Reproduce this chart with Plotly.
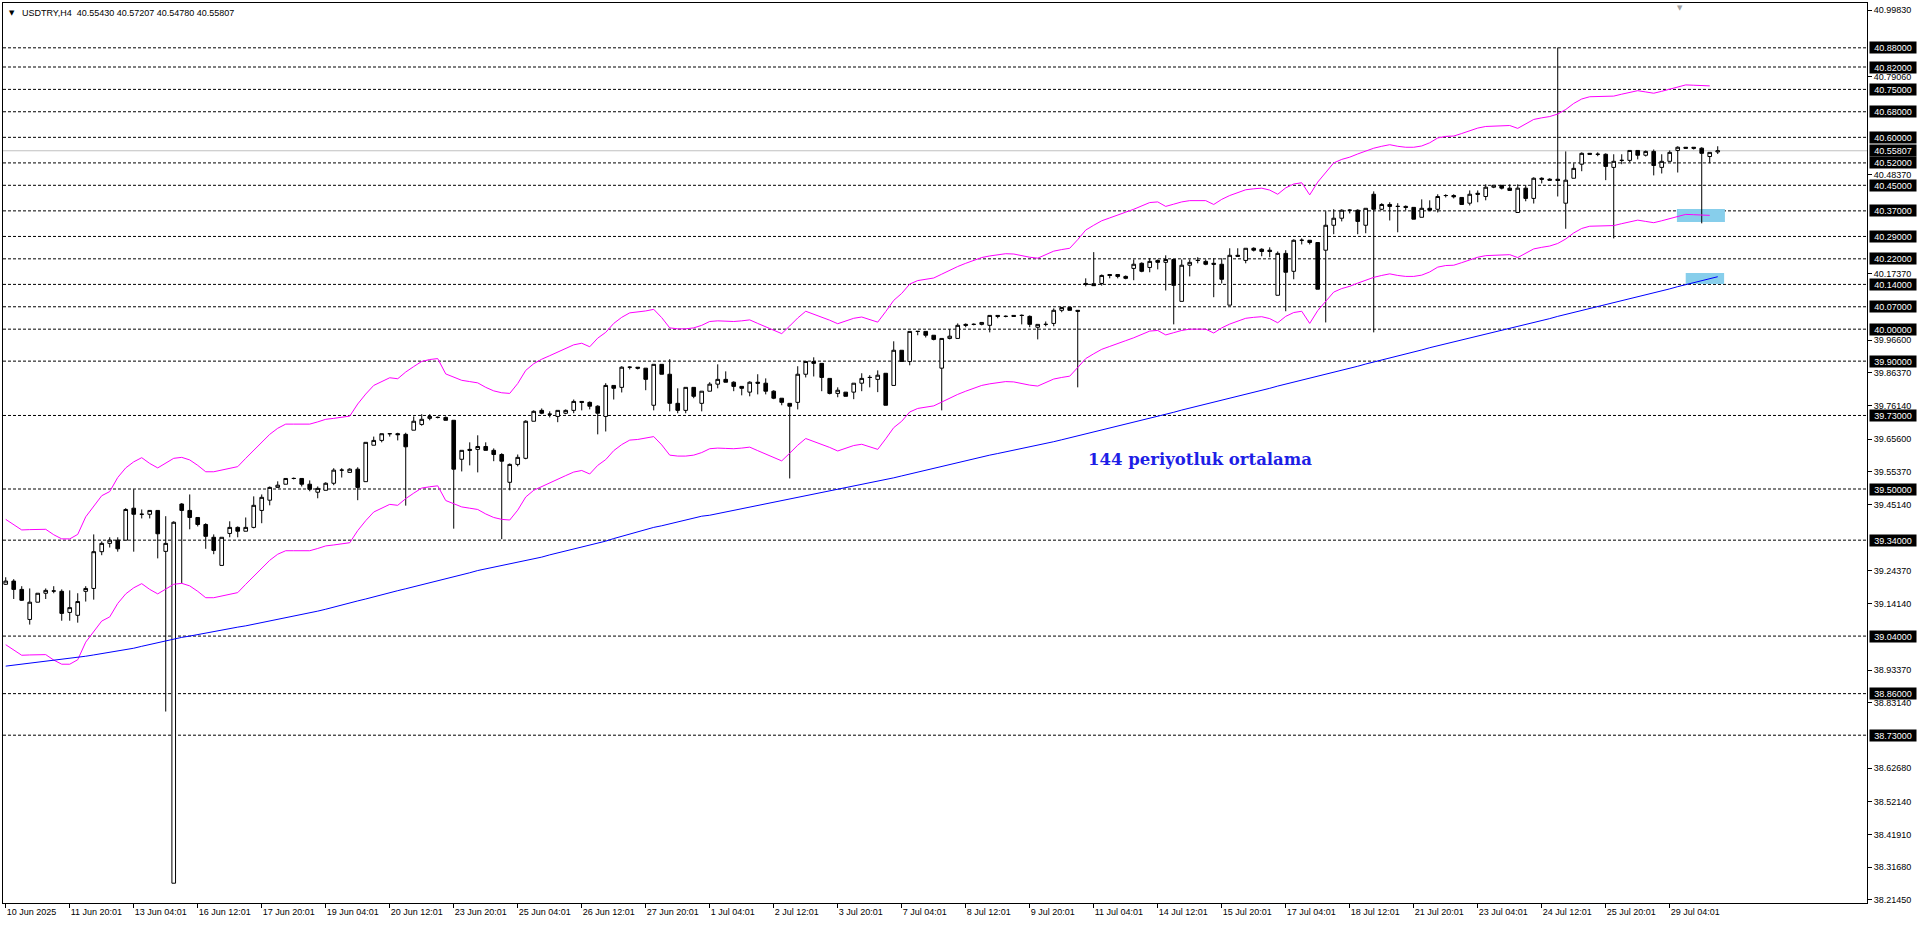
import plotly.graph_objects as go

# ---------------- data ----------------
x_labels = ["10 Jun 2025", "11 Jun 20:01", "13 Jun 04:01", "16 Jun 12:01", "17 Jun 20:01",
            "19 Jun 04:01", "20 Jun 12:01", "23 Jun 20:01", "25 Jun 04:01", "26 Jun 12:01",
            "27 Jun 20:01", "1 Jul 04:01", "2 Jul 12:01", "3 Jul 20:01", "7 Jul 04:01",
            "8 Jul 12:01", "9 Jul 20:01", "11 Jul 04:01", "14 Jul 12:01", "15 Jul 20:01",
            "17 Jul 04:01", "18 Jul 12:01", "21 Jul 20:01", "23 Jul 04:01", "24 Jul 12:01",
            "25 Jul 20:01", "29 Jul 04:01"]
bars_per_label = 8

opens = [39.202, 39.212, 39.186, 39.092, 39.146, 39.174, 39.181, 39.180, 39.114, 39.105,
         39.180, 39.189, 39.304, 39.330, 39.340, 39.340, 39.440, 39.421, 39.421, 39.433,
         39.305, 38.267, 39.453, 39.433, 39.411, 39.389, 39.349, 39.261, 39.361, 39.380,
         39.368, 39.380, 39.433, 39.465, 39.505, 39.515, 39.533, 39.533, 39.515, 39.490,
         39.496, 39.518, 39.559, 39.552, 39.562, 39.523, 39.637, 39.652, 39.673, 39.673,
         39.671, 39.684, 39.702, 39.721, 39.724, 39.724, 39.715, 39.593, 39.624, 39.624,
         39.633, 39.621, 39.608, 39.521, 39.577, 39.596, 39.712, 39.746, 39.734, 39.727,
         39.737, 39.746, 39.774, 39.771, 39.759, 39.727, 39.824, 39.818, 39.881, 39.881,
         39.878, 39.762, 39.890, 39.859, 39.768, 39.746, 39.818, 39.768, 39.806, 39.828,
         39.843, 39.834, 39.821, 39.803, 39.834, 39.831, 39.806, 39.784, 39.768, 39.771,
         39.859, 39.899, 39.893, 39.846, 39.799, 39.803, 39.803, 39.831, 39.849, 39.843,
         39.862, 39.824, 39.934, 39.899, 39.993, 39.993, 39.981, 39.878, 39.971, 39.971,
         40.015, 40.015, 40.015, 40.012, 40.043, 40.040, 40.043, 40.043, 40.040, 40.006,
         40.015, 40.018, 40.059, 40.068, 40.059, 40.143, 40.142, 40.143, 40.171, 40.171,
         40.165, 40.190, 40.206, 40.193, 40.215, 40.209, 40.218, 40.087, 40.200, 40.215,
         40.212, 40.206, 40.203, 40.075, 40.231, 40.215, 40.253, 40.250, 40.247, 40.106,
         40.237, 40.181, 40.278, 40.278, 40.271, 40.247, 40.325, 40.347, 40.372, 40.372,
         40.325, 40.422, 40.375, 40.390, 40.384, 40.384, 40.381, 40.350, 40.378, 40.375,
         40.418, 40.418, 40.412, 40.394, 40.425, 40.415, 40.444, 40.450, 40.441, 40.365,
         40.441, 40.409, 40.472, 40.469, 40.469, 40.394, 40.472, 40.516, 40.550, 40.547,
         40.547, 40.506, 40.528, 40.528, 40.559, 40.544, 40.556, 40.506, 40.525, 40.559,
         40.569, 40.569, 40.566, 40.540, 40.55430]

highs = [39.224, 39.218, 39.196, 39.189, 39.174, 39.189, 39.196, 39.186, 39.183, 39.174,
         39.196, 39.358, 39.336, 39.349, 39.349, 39.440, 39.499, 39.436, 39.433, 39.433,
         39.415, 39.399, 39.456, 39.483, 39.411, 39.393, 39.358, 39.349, 39.399, 39.383,
         39.411, 39.477, 39.483, 39.508, 39.524, 39.533, 39.536, 39.533, 39.527, 39.508,
         39.521, 39.565, 39.565, 39.565, 39.568, 39.646, 39.664, 39.673, 39.673, 39.676,
         39.676, 39.727, 39.734, 39.734, 39.727, 39.727, 39.715, 39.621, 39.646, 39.668,
         39.646, 39.627, 39.612, 39.580, 39.608, 39.715, 39.746, 39.752, 39.743, 39.746,
         39.749, 39.780, 39.774, 39.774, 39.762, 39.831, 39.824, 39.884, 39.884, 39.881,
         39.878, 39.890, 39.890, 39.906, 39.815, 39.818, 39.818, 39.806, 39.834, 39.890,
         39.868, 39.837, 39.821, 39.837, 39.859, 39.846, 39.809, 39.784, 39.768, 39.884,
         39.899, 39.912, 39.893, 39.846, 39.818, 39.803, 39.831, 39.862, 39.856, 39.871,
         39.862, 39.962, 39.934, 39.993, 39.993, 39.993, 39.981, 39.971, 40.000, 40.018,
         40.018, 40.018, 40.021, 40.043, 40.043, 40.043, 40.043, 40.046, 40.043, 40.015,
         40.024, 40.065, 40.068, 40.068, 40.059, 40.159, 40.241, 40.171, 40.171, 40.171,
         40.168, 40.218, 40.209, 40.222, 40.218, 40.231, 40.218, 40.218, 40.218, 40.225,
         40.218, 40.222, 40.222, 40.253, 40.253, 40.253, 40.256, 40.253, 40.256, 40.243,
         40.247, 40.281, 40.284, 40.278, 40.271, 40.369, 40.375, 40.375, 40.375, 40.375,
         40.378, 40.431, 40.394, 40.397, 40.394, 40.387, 40.381, 40.406, 40.403, 40.422,
         40.422, 40.422, 40.412, 40.434, 40.434, 40.453, 40.450, 40.450, 40.453, 40.453,
         40.450, 40.475, 40.475, 40.472, 40.881, 40.556, 40.519, 40.553, 40.550, 40.553,
         40.550, 40.547, 40.547, 40.559, 40.559, 40.559, 40.562, 40.547, 40.559, 40.572,
         40.569, 40.569, 40.569, 40.553, 40.57207]

lows = [39.200, 39.156, 39.150, 39.076, 39.146, 39.156, 39.174, 39.088, 39.088, 39.082,
        39.148, 39.154, 39.293, 39.317, 39.304, 39.340, 39.304, 39.408, 39.408, 39.283,
        38.804, 38.267, 39.205, 39.374, 39.383, 39.313, 39.296, 39.261, 39.349, 39.349,
        39.368, 39.377, 39.393, 39.449, 39.505, 39.515, 39.530, 39.508, 39.493, 39.471,
        39.496, 39.512, 39.536, 39.552, 39.465, 39.523, 39.637, 39.646, 39.664, 39.652,
        39.448, 39.684, 39.698, 39.715, 39.721, 39.715, 39.376, 39.555, 39.574, 39.552,
        39.621, 39.587, 39.343, 39.496, 39.571, 39.593, 39.712, 39.734, 39.724, 39.709,
        39.734, 39.737, 39.746, 39.749, 39.671, 39.680, 39.780, 39.802, 39.874, 39.874,
        39.809, 39.746, 39.859, 39.743, 39.737, 39.737, 39.784, 39.743, 39.806, 39.815,
        39.834, 39.806, 39.793, 39.790, 39.796, 39.796, 39.781, 39.762, 39.533, 39.749,
        39.849, 39.852, 39.806, 39.796, 39.787, 39.790, 39.781, 39.806, 39.818, 39.803,
        39.762, 39.824, 39.899, 39.887, 39.981, 39.974, 39.965, 39.746, 39.968, 39.971,
        40.006, 40.012, 40.012, 39.990, 40.034, 40.037, 40.040, 40.015, 40.006, 39.968,
        40.009, 40.009, 40.053, 40.059, 39.818, 40.134, 40.135, 40.136, 40.159, 40.159,
        40.156, 40.153, 40.178, 40.178, 40.187, 40.121, 40.015, 40.087, 40.165, 40.206,
        40.200, 40.100, 40.143, 40.075, 40.228, 40.206, 40.243, 40.228, 40.225, 40.106,
        40.056, 40.156, 40.265, 40.265, 40.125, 40.021, 40.297, 40.337, 40.362, 40.297,
        40.300, 39.990, 40.372, 40.340, 40.303, 40.372, 40.344, 40.350, 40.369, 40.365,
        40.412, 40.409, 40.390, 40.387, 40.397, 40.403, 40.441, 40.437, 40.434, 40.365,
        40.400, 40.393, 40.456, 40.466, 40.415, 40.314, 40.472, 40.494, 40.547, 40.541,
        40.466, 40.284, 40.516, 40.522, 40.531, 40.540, 40.481, 40.487, 40.525, 40.490,
        40.566, 40.562, 40.331, 40.519, 40.54780]

closes = [39.212, 39.186, 39.152, 39.146, 39.174, 39.183, 39.181, 39.111, 39.129, 39.148,
          39.189, 39.304, 39.330, 39.340, 39.313, 39.436, 39.421, 39.421, 39.433, 39.360,
          39.330, 39.396, 39.433, 39.411, 39.389, 39.352, 39.308, 39.349, 39.380, 39.368,
          39.380, 39.449, 39.474, 39.505, 39.512, 39.533, 39.533, 39.515, 39.499, 39.502,
          39.518, 39.559, 39.559, 39.562, 39.505, 39.646, 39.652, 39.673, 39.673, 39.670,
          39.632, 39.712, 39.718, 39.727, 39.724, 39.715, 39.562, 39.621, 39.621, 39.633,
          39.621, 39.608, 39.587, 39.577, 39.599, 39.712, 39.743, 39.737, 39.734, 39.746,
          39.746, 39.774, 39.771, 39.759, 39.737, 39.824, 39.815, 39.881, 39.881, 39.878,
          39.843, 39.890, 39.859, 39.768, 39.746, 39.818, 39.790, 39.806, 39.828, 39.843,
          39.834, 39.821, 39.815, 39.834, 39.831, 39.806, 39.784, 39.771, 39.759, 39.859,
          39.899, 39.893, 39.849, 39.799, 39.809, 39.790, 39.831, 39.846, 39.849, 39.856,
          39.762, 39.934, 39.899, 39.993, 39.993, 39.981, 39.968, 39.971, 39.978, 40.012,
          40.012, 40.015, 40.021, 40.043, 40.040, 40.040, 40.040, 40.043, 40.015, 40.015,
          40.015, 40.059, 40.068, 40.059, 40.056, 40.140, 40.136, 40.168, 40.168, 40.165,
          40.159, 40.203, 40.181, 40.212, 40.209, 40.218, 40.137, 40.200, 40.209, 40.215,
          40.203, 40.203, 40.156, 40.231, 40.228, 40.253, 40.247, 40.243, 40.243, 40.237,
          40.178, 40.278, 40.278, 40.271, 40.125, 40.325, 40.347, 40.372, 40.372, 40.337,
          40.378, 40.375, 40.390, 40.384, 40.384, 40.381, 40.344, 40.378, 40.372, 40.415,
          40.418, 40.414, 40.390, 40.422, 40.422, 40.444, 40.450, 40.441, 40.434, 40.441,
          40.409, 40.472, 40.469, 40.466, 40.465, 40.466, 40.503, 40.550, 40.547, 40.547,
          40.509, 40.525, 40.528, 40.559, 40.544, 40.556, 40.512, 40.525, 40.553, 40.569,
          40.566, 40.566, 40.550, 40.553, 40.55807]

ma144 = [38.946, 38.949, 38.951, 38.954, 38.957, 38.960, 38.963, 38.967, 38.970, 38.973,
         38.977, 38.981, 38.985, 38.990, 38.994, 38.998, 39.002, 39.008, 39.014, 39.019,
         39.025, 39.031, 39.036, 39.040, 39.045, 39.049, 39.054, 39.059, 39.063, 39.068,
         39.072, 39.077, 39.081, 39.086, 39.092, 39.097, 39.102, 39.108, 39.113, 39.118,
         39.124, 39.131, 39.137, 39.143, 39.150, 39.156, 39.163, 39.169, 39.175, 39.182,
         39.188, 39.194, 39.201, 39.207, 39.213, 39.220, 39.226, 39.232, 39.238, 39.245,
         39.250, 39.255, 39.260, 39.265, 39.270, 39.275, 39.281, 39.287, 39.294, 39.300,
         39.306, 39.313, 39.319, 39.325, 39.331, 39.337, 39.345, 39.352, 39.359, 39.367,
         39.374, 39.380, 39.385, 39.391, 39.397, 39.403, 39.409, 39.415, 39.418, 39.423,
         39.428, 39.433, 39.438, 39.443, 39.448, 39.453, 39.459, 39.464, 39.469, 39.474,
         39.479, 39.484, 39.489, 39.494, 39.499, 39.504, 39.509, 39.514, 39.519, 39.524,
         39.529, 39.535, 39.541, 39.547, 39.553, 39.560, 39.566, 39.572, 39.578, 39.584,
         39.590, 39.596, 39.601, 39.606, 39.611, 39.616, 39.621, 39.626, 39.631, 39.636,
         39.642, 39.648, 39.654, 39.660, 39.666, 39.672, 39.678, 39.684, 39.690, 39.697,
         39.703, 39.709, 39.715, 39.722, 39.728, 39.734, 39.740, 39.747, 39.753, 39.759,
         39.765, 39.772, 39.778, 39.784, 39.790, 39.797, 39.803, 39.809, 39.815, 39.822,
         39.828, 39.834, 39.840, 39.847, 39.853, 39.859, 39.865, 39.872, 39.878, 39.884,
         39.891, 39.897, 39.904, 39.910, 39.916, 39.923, 39.929, 39.935, 39.942, 39.948,
         39.955, 39.959, 39.965, 39.971, 39.978, 39.984, 39.990, 39.996, 40.002, 40.009,
         40.015, 40.021, 40.027, 40.033, 40.040, 40.046, 40.052, 40.058, 40.064, 40.071,
         40.077, 40.083, 40.089, 40.095, 40.102, 40.108, 40.114, 40.120, 40.126, 40.133,
         40.139, 40.145, 40.151, 40.157, 40.164]

env_upper = [39.405, 39.389, 39.372, 39.373, 39.374, 39.374, 39.357, 39.344, 39.344, 39.358,
             39.413, 39.448, 39.479, 39.492, 39.536, 39.566, 39.585, 39.598, 39.580, 39.566,
             39.582, 39.596, 39.599, 39.591, 39.574, 39.554, 39.554, 39.559, 39.564, 39.570,
             39.596, 39.622, 39.648, 39.671, 39.690, 39.703, 39.703, 39.703, 39.703, 39.710,
             39.718, 39.721, 39.724, 39.728, 39.766, 39.797, 39.824, 39.837, 39.848, 39.845,
             39.866, 39.883, 39.899, 39.905, 39.908, 39.860, 39.850, 39.840, 39.836, 39.832,
             39.818, 39.807, 39.801, 39.799, 39.830, 39.871, 39.892, 39.906, 39.917, 39.928,
             39.940, 39.951, 39.956, 39.945, 39.972, 39.990, 40.018, 40.037, 40.051, 40.053,
             40.057, 40.062, 40.036, 40.004, 40.001, 40.001, 40.004, 40.012, 40.024, 40.026,
             40.025, 40.024, 40.026, 40.029, 40.018, 40.008, 39.996, 39.986, 40.010, 40.035,
             40.056, 40.047, 40.038, 40.028, 40.017, 40.025, 40.034, 40.038, 40.030, 40.022,
             40.055, 40.090, 40.112, 40.141, 40.152, 40.157, 40.160, 40.172, 40.185, 40.196,
             40.206, 40.215, 40.224, 40.229, 40.233, 40.236, 40.235, 40.229, 40.225, 40.222,
             40.234, 40.244, 40.249, 40.253, 40.280, 40.310, 40.325, 40.339, 40.348, 40.356,
             40.366, 40.375, 40.385, 40.396, 40.398, 40.384, 40.391, 40.398, 40.402, 40.402,
             40.402, 40.390, 40.406, 40.418, 40.428, 40.436, 40.439, 40.441, 40.435, 40.422,
             40.442, 40.454, 40.458, 40.420, 40.460, 40.490, 40.520, 40.531, 40.538, 40.548,
             40.558, 40.566, 40.572, 40.577, 40.572, 40.569, 40.569, 40.573, 40.583, 40.598,
             40.603, 40.604, 40.612, 40.621, 40.629, 40.634, 40.635, 40.636, 40.637, 40.628,
             40.642, 40.656, 40.661, 40.665, 40.673, 40.687, 40.706, 40.720, 40.727, 40.728,
             40.729, 40.729, 40.735, 40.741, 40.746, 40.742, 40.738, 40.744, 40.750, 40.756,
             40.764, 40.763, 40.762, 40.761]

env_lower = [39.013, 38.997, 38.980, 38.981, 38.982, 38.982, 38.965, 38.952, 38.952, 38.966,
             39.021, 39.056, 39.087, 39.100, 39.142, 39.172, 39.191, 39.204, 39.186, 39.172,
             39.188, 39.202, 39.205, 39.197, 39.180, 39.160, 39.160, 39.165, 39.170, 39.176,
             39.202, 39.228, 39.254, 39.277, 39.296, 39.307, 39.307, 39.307, 39.307, 39.314,
             39.322, 39.325, 39.328, 39.332, 39.370, 39.401, 39.428, 39.441, 39.452, 39.449,
             39.470, 39.487, 39.503, 39.507, 39.510, 39.464, 39.454, 39.444, 39.440, 39.436,
             39.422, 39.411, 39.405, 39.403, 39.434, 39.475, 39.496, 39.508, 39.519, 39.530,
             39.542, 39.553, 39.558, 39.547, 39.574, 39.592, 39.620, 39.639, 39.653, 39.655,
             39.659, 39.664, 39.638, 39.606, 39.603, 39.603, 39.606, 39.614, 39.626, 39.628,
             39.627, 39.626, 39.628, 39.631, 39.620, 39.610, 39.598, 39.588, 39.612, 39.637,
             39.658, 39.649, 39.640, 39.630, 39.619, 39.627, 39.636, 39.640, 39.632, 39.624,
             39.657, 39.692, 39.712, 39.741, 39.752, 39.757, 39.760, 39.772, 39.785, 39.796,
             39.806, 39.815, 39.824, 39.829, 39.833, 39.836, 39.835, 39.829, 39.825, 39.822,
             39.834, 39.844, 39.849, 39.853, 39.880, 39.908, 39.923, 39.937, 39.946, 39.954,
             39.964, 39.973, 39.983, 39.994, 39.996, 39.982, 39.989, 39.996, 40.000, 40.000,
             40.000, 39.988, 40.004, 40.016, 40.026, 40.034, 40.037, 40.039, 40.033, 40.020,
             40.040, 40.052, 40.056, 40.018, 40.058, 40.087, 40.116, 40.127, 40.134, 40.144,
             40.154, 40.162, 40.168, 40.173, 40.168, 40.165, 40.165, 40.169, 40.179, 40.194,
             40.199, 40.200, 40.208, 40.217, 40.225, 40.230, 40.231, 40.232, 40.233, 40.224,
             40.238, 40.251, 40.256, 40.260, 40.268, 40.282, 40.301, 40.315, 40.322, 40.323,
             40.324, 40.324, 40.330, 40.336, 40.341, 40.337, 40.333, 40.339, 40.345, 40.351,
             40.359, 40.358, 40.357, 40.356]

levels = [40.88, 40.82, 40.75, 40.68, 40.60, 40.52, 40.45, 40.37, 40.29, 40.22,
          40.14, 40.07, 40.00, 39.90, 39.73, 39.50, 39.34, 39.04, 38.86, 38.73]

# price-scale labels that remain visible next to the level boxes
price_ticks = [40.99830, 40.79060, 40.48370, 40.17370, 39.96600, 39.86370, 39.76140,
               39.65600, 39.55370, 39.45140, 39.24370, 39.14140, 38.93370, 38.83140,
               38.62680, 38.52140, 38.41910, 38.31680, 38.21450]

bid_price = 40.55807
symbol_text = "USDTRY,H4\u00a0\u00a040.55430 40.57207 40.54780 40.55807"
ma_text = "144 periyotluk ortalama"

# ---------------- figure ----------------
bars = list(range(len(opens)))
AXFONT = dict(family="Liberation Sans, Arial, sans-serif", size=9, color="black")

fig = go.Figure()

fig.add_trace(go.Candlestick(
    x=bars, open=opens, high=highs, low=lows, close=closes,
    increasing=dict(line=dict(color="black", width=1), fillcolor="white"),
    decreasing=dict(line=dict(color="black", width=1), fillcolor="black"),
    whiskerwidth=0, showlegend=False, hoverinfo="skip",
))

fig.add_trace(go.Scatter(x=bars[:len(env_upper)], y=env_upper, mode="lines",
                         line=dict(color="#FF00FF", width=1), showlegend=False, hoverinfo="skip"))
fig.add_trace(go.Scatter(x=bars[:len(env_lower)], y=env_lower, mode="lines",
                         line=dict(color="#FF00FF", width=1), showlegend=False, hoverinfo="skip"))
fig.add_trace(go.Scatter(x=bars[:len(ma144)], y=ma144, mode="lines",
                         line=dict(color="#0000FF", width=1), showlegend=False, hoverinfo="skip"))

shapes = []
for lv in levels:
    shapes.append(dict(type="line", xref="paper", yref="y", x0=0, x1=1, y0=lv, y1=lv,
                       line=dict(color="black", width=1, dash="3px,2px"), layer="below"))
shapes.append(dict(type="line", xref="paper", yref="y", x0=0, x1=1, y0=bid_price, y1=bid_price,
                   line=dict(color="#C0C0C0", width=1), layer="below"))
# highlighted zones
shapes.append(dict(type="rect", xref="x", yref="y", x0=208.9, x1=214.9, y0=40.335, y1=40.376,
                   fillcolor="rgb(135,206,235)", line=dict(width=0), layer="below"))
shapes.append(dict(type="rect", xref="x", yref="y", x0=210.0, x1=214.8, y0=40.141, y1=40.176,
                   fillcolor="rgb(135,206,235)", line=dict(width=0), layer="below"))

annotations = []
for lv in levels + [bid_price]:
    annotations.append(dict(xref="paper", yref="y", x=1, y=lv, xanchor="left", yanchor="middle",
                            xshift=2, text=f"{lv:.5f}", showarrow=False,
                            font=dict(family=AXFONT["family"], size=9, color="white"),
                            bgcolor="black", borderpad=1, width=44, height=9, align="center"))
annotations.append(dict(xref="paper", yref="paper", x=0, y=1, xanchor="left", yanchor="middle",
                        xshift=4, yshift=-10, text="\u25BC", showarrow=False,
                        font=dict(family="DejaVu Sans", size=7, color="black")))
annotations.append(dict(xref="paper", yref="paper", x=0, y=1, xanchor="left", yanchor="middle",
                        xshift=17, yshift=-10, text=symbol_text, showarrow=False,
                        font=AXFONT))
# chart-shift marker at the top
annotations.append(dict(xref="x", yref="paper", x=209.3, y=1, xanchor="center", yanchor="top",
                        yshift=1, text="\u25BC", showarrow=False,
                        font=dict(family="DejaVu Sans", size=7, color="#A0A0A0")))
annotations.append(dict(xref="x", yref="y", x=135.0, y=39.591, xanchor="left", yanchor="middle",
                        text=f"<b>{ma_text}</b>", showarrow=False,
                        font=dict(family="DejaVu Serif", size=16.5, color="#1E1EE6")))

fig.update_layout(
    width=1920, height=927,
    margin=dict(l=3, r=53, t=3, b=24),
    paper_bgcolor="white", plot_bgcolor="white",
    boxgap=0.35,
    shapes=shapes, annotations=annotations,
    showlegend=False,
    xaxis=dict(range=[-0.34, 232.66], rangeslider=dict(visible=False),
               tickmode="array",
               tickvals=[k * bars_per_label for k in range(len(x_labels))],
               ticktext=x_labels, ticks="outside", ticklen=4, tickcolor="black",
               ticklabelposition="outside right",
               tickfont=AXFONT, showgrid=False, zeroline=False,
               showline=True, linecolor="black", linewidth=1, mirror=True),
    yaxis=dict(range=[38.2051, 41.0202], side="right", tickmode="array",
               tickvals=price_ticks, ticktext=[f"{v:.5f}" for v in price_ticks],
               ticks="outside", ticklen=4, tickcolor="black", tickfont=AXFONT,
               showgrid=False, zeroline=False,
               showline=True, linecolor="black", linewidth=1, mirror=True),
)

fig.write_html("out.html", config={"displayModeBar": False},
               post_script="document.body.style.margin='0';document.body.style.overflow='hidden';")
